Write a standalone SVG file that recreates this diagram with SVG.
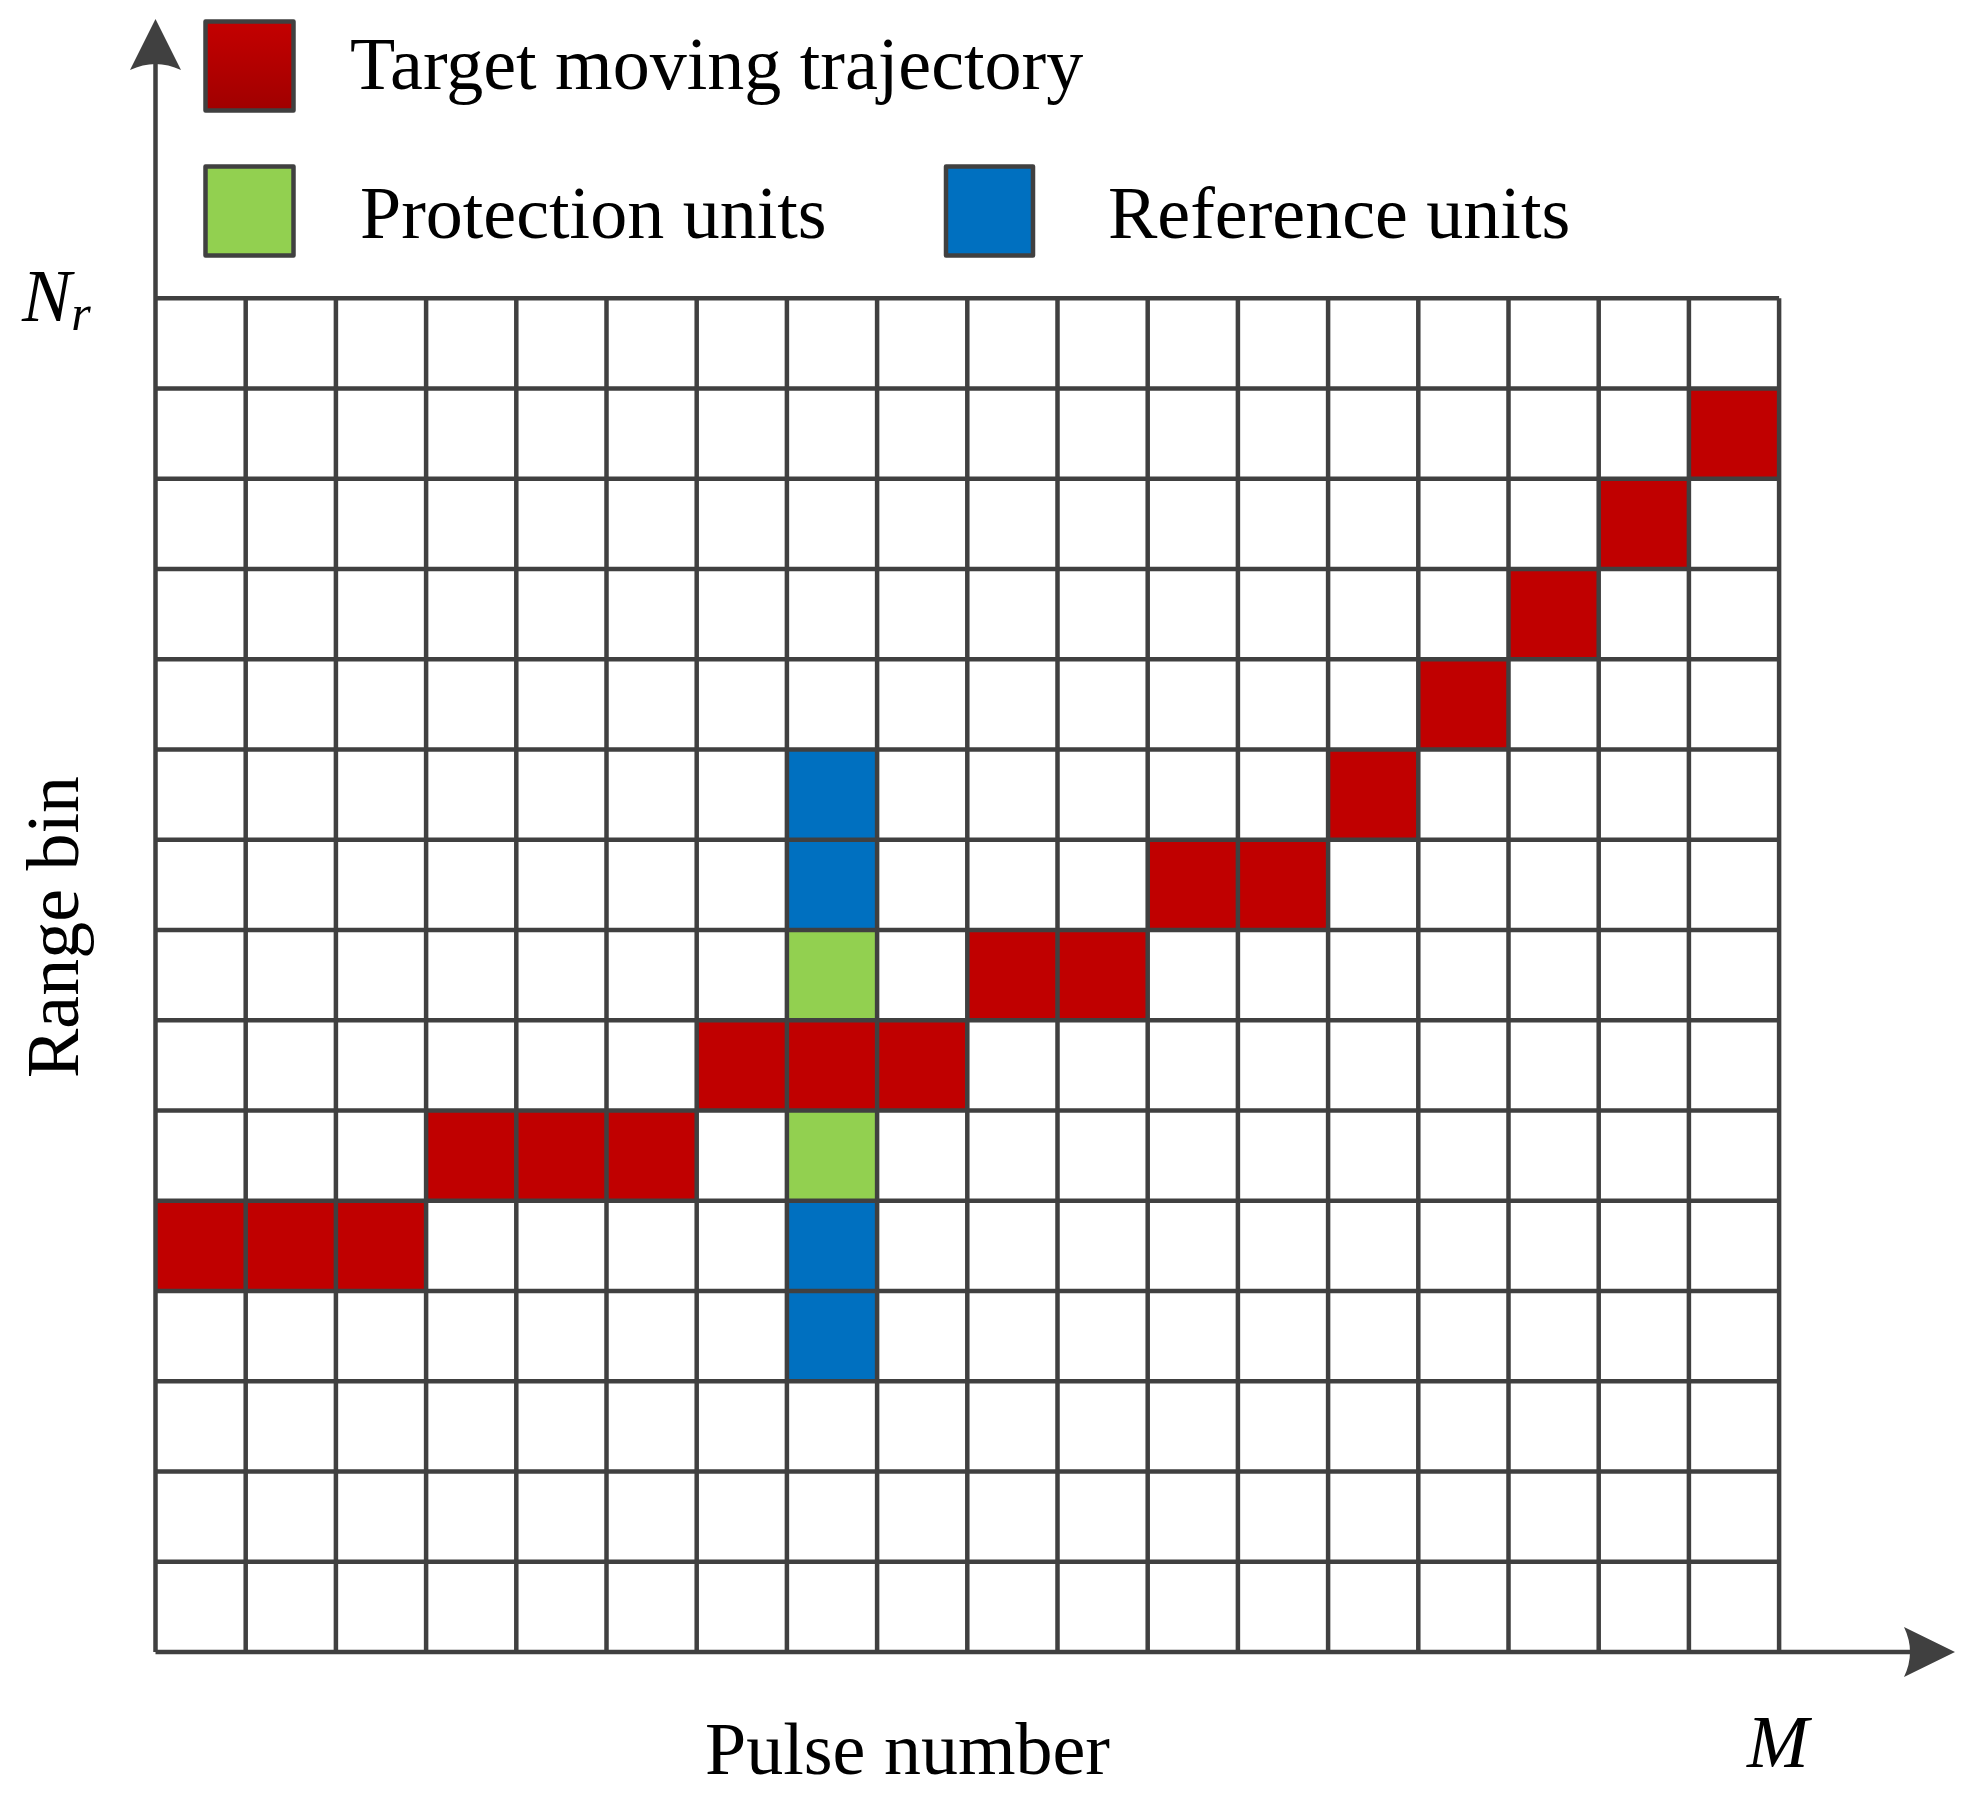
<svg xmlns="http://www.w3.org/2000/svg" width="1968" height="1793" viewBox="0 0 1968 1793">
<style>
.t{font-family:"Liberation Serif","Times New Roman",serif;font-size:74px;fill:#000}
.i{font-style:italic}
.red{fill:#C00000}
.grn{fill:#92D050}
.blu{fill:#0070C0}
.grid{stroke:#404040;stroke-width:4.5;fill:none}
.leg{stroke:#404040;stroke-width:4.5;stroke-linejoin:round}
</style>
<defs>
<linearGradient id="rg" x1="0" y1="0" x2="0" y2="1">
<stop offset="0" stop-color="#C40000"/>
<stop offset="1" stop-color="#A00000"/>
</linearGradient>
</defs>
<rect width="1968" height="1793" fill="#fff"/>

<g id="legend">
<g id="legend-target"><rect class="leg" x="205.5" y="21.5" width="88" height="89" fill="url(#rg)"/><text class="t" x="350" y="89">Target moving trajectory</text></g>
<g id="legend-protection"><rect class="leg grn" x="205.5" y="166.5" width="88" height="89"/><text class="t" x="360" y="238">Protection units</text></g>
<g id="legend-reference"><rect class="leg blu" x="946" y="166.5" width="87" height="89"/><text class="t" x="1108" y="238">Reference units</text></g>
</g>

<g id="cells">
<rect class="red" x="1689.0" y="388.6" width="90.2" height="90.25"/>
<rect class="red" x="1598.8" y="478.8" width="90.2" height="90.25"/>
<rect class="red" x="1508.6" y="569.1" width="90.2" height="90.25"/>
<rect class="red" x="1418.3" y="659.3" width="90.2" height="90.25"/>
<rect class="red" x="1328.1" y="749.6" width="90.2" height="90.25"/>
<rect class="red" x="1147.7" y="839.8" width="180.4" height="90.25"/>
<rect class="red" x="967.3" y="930.1" width="180.4" height="90.25"/>
<rect class="red" x="696.7" y="1020.3" width="270.6" height="90.25"/>
<rect class="red" x="426.1" y="1110.6" width="270.6" height="90.25"/>
<rect class="red" x="155.5" y="1200.8" width="270.6" height="90.25"/>
<rect class="blu" x="786.9" y="749.6" width="90.2" height="90.25"/>
<rect class="blu" x="786.9" y="839.8" width="90.2" height="90.25"/>
<rect class="grn" x="786.9" y="930.1" width="90.2" height="90.25"/>
<rect class="grn" x="786.9" y="1110.6" width="90.2" height="90.25"/>
<rect class="blu" x="786.9" y="1200.8" width="90.2" height="90.25"/>
<rect class="blu" x="786.9" y="1291.1" width="90.2" height="90.25"/>
</g>

<g id="grid" class="grid">
<path d="M155.5 298.3H1779.1M155.5 388.55H1779.1M155.5 478.8H1779.1M155.5 569.05H1779.1M155.5 659.3H1779.1M155.5 749.55H1779.1M155.5 839.8H1779.1M155.5 930.05H1779.1M155.5 1020.3H1779.1M155.5 1110.55H1779.1M155.5 1200.8H1779.1M155.5 1291.05H1779.1M155.5 1381.3H1779.1M155.5 1471.55H1779.1M155.5 1561.8H1779.1"/>
<path d="M245.7 298.3V1652M335.9 298.3V1652M426.1 298.3V1652M516.3 298.3V1652M606.5 298.3V1652M696.7 298.3V1652M786.9 298.3V1652M877.1 298.3V1652M967.3 298.3V1652M1057.5 298.3V1652M1147.7 298.3V1652M1237.9 298.3V1652M1328.1 298.3V1652M1418.3 298.3V1652M1508.5 298.3V1652M1598.7 298.3V1652M1688.9 298.3V1652M1779.1 298.3V1652"/>
</g>

<g id="axes">
<path class="grid" d="M155.5 1652V62M155.5 1652H1912"/>
<path fill="#404040" d="M155.5 19L181 70Q155.5 58 130 70Z"/>
<path fill="#404040" d="M1955 1652L1904 1627Q1916 1652 1904 1677Z"/>
</g>

<g id="labels">
<text class="t i" x="22" y="321">N<tspan font-size="50" dy="9">r</tspan></text>
<text class="t" transform="translate(78 927) rotate(-90)" text-anchor="middle" font-size="76">Range bin</text>
<text class="t" x="907.5" y="1774" text-anchor="middle">Pulse number</text>
<text class="t i" x="1747" y="1767">M</text>
</g>
</svg>
